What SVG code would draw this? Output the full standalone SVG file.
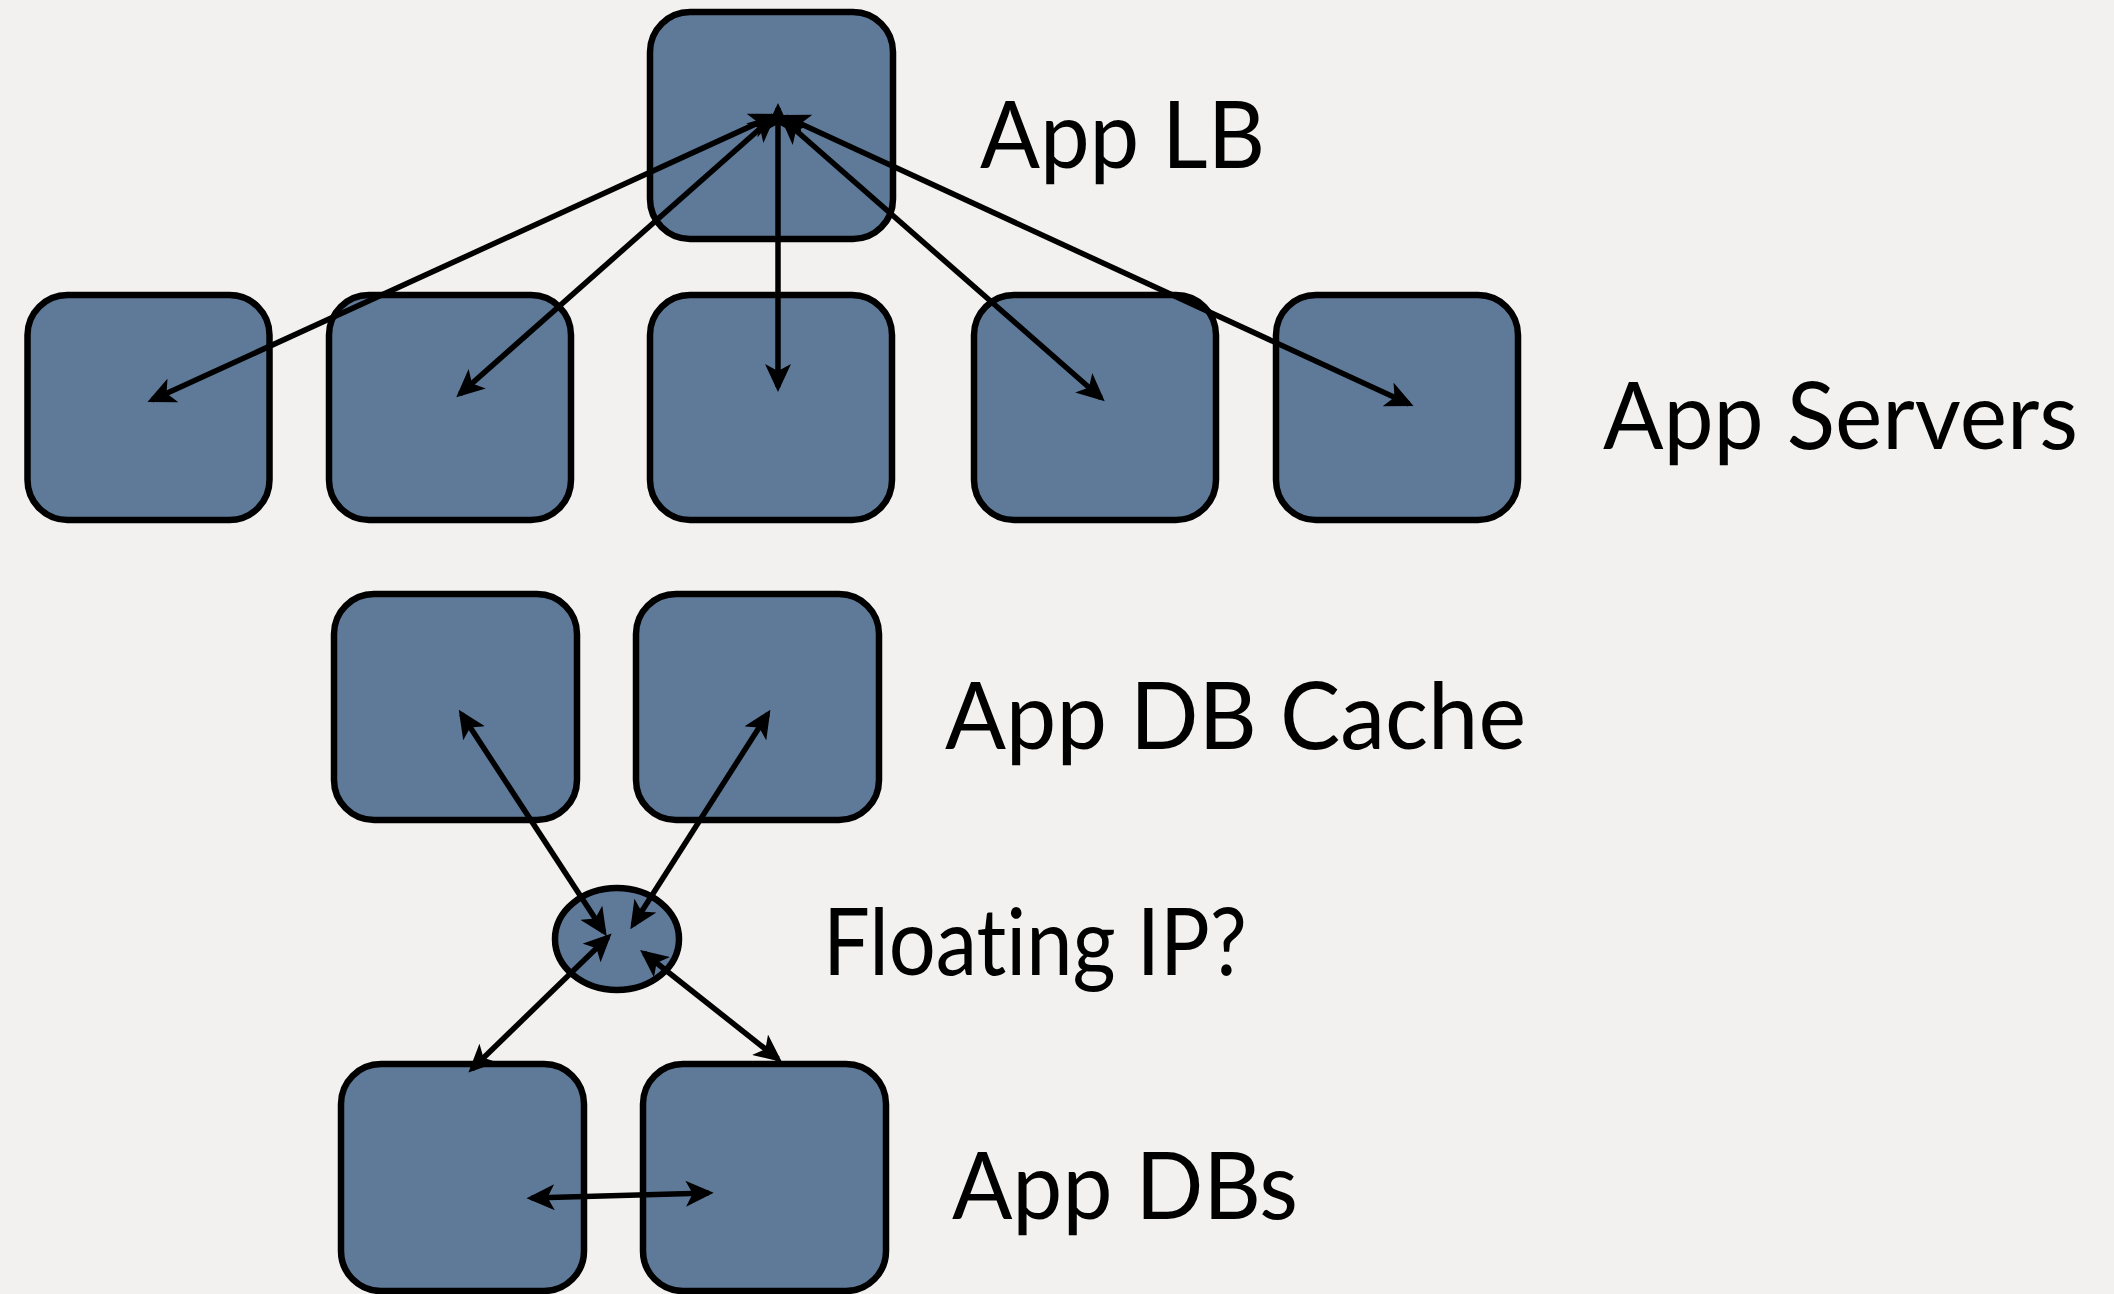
<svg xmlns="http://www.w3.org/2000/svg" width="2114" height="1294" viewBox="0 0 2114 1294">
<style>
.box{fill:#5f7a99;stroke:#000;stroke-width:6.5}
.con{stroke:#000;stroke-width:5.5;fill:none;marker-start:url(#ah);marker-end:url(#ah)}
.lbl{font-family:Lato,"Open Sans","Liberation Sans",sans-serif;font-size:93px;fill:#000;font-variant-ligatures:none;font-feature-settings:"liga" 0}
</style>
<defs>
<marker id="ah" viewBox="0 0 28 26" refX="23" refY="13" markerWidth="28" markerHeight="26" markerUnits="userSpaceOnUse" orient="auto-start-reverse">
<path d="M0,0 L28,13 L0,26 L7,13 Z" fill="#000"/>
</marker>
</defs>
<rect width="2114" height="1294" fill="#f2f1ef"/>
<g id="app-lb"><rect class="box" x="650" y="12" width="243" height="227" rx="40"/></g>
<g id="server-1"><rect class="box" x="27.5" y="295" width="242" height="225" rx="40"/></g>
<g id="server-2"><rect class="box" x="329" y="295" width="242" height="225" rx="40"/></g>
<g id="server-3"><rect class="box" x="650" y="295" width="242" height="225" rx="40"/></g>
<g id="server-4"><rect class="box" x="974" y="295" width="242" height="225" rx="40"/></g>
<g id="server-5"><rect class="box" x="1276" y="295" width="242" height="225" rx="40"/></g>
<g id="cache-1"><rect class="box" x="334" y="594" width="243" height="226" rx="40"/></g>
<g id="cache-2"><rect class="box" x="636" y="594" width="243" height="226" rx="40"/></g>
<g id="floating-ip"><ellipse class="box" cx="617" cy="939" rx="62" ry="51"/></g>
<g id="db-1"><rect class="box" x="341" y="1064" width="243" height="227" rx="40"/></g>
<g id="db-2"><rect class="box" x="643" y="1064" width="243" height="227" rx="40"/></g>
<g id="connectors">
<line class="con" x1="773" y1="116" x2="152" y2="400"/>
<line class="con" x1="772" y1="118" x2="460" y2="394"/>
<line class="con" x1="778" y1="108" x2="778" y2="387"/>
<line class="con" x1="784" y1="120" x2="1101" y2="398"/>
<line class="con" x1="786" y1="117" x2="1409" y2="404"/>
<line class="con" x1="604" y1="932" x2="461.5" y2="714"/>
<line class="con" x1="633" y1="925" x2="767.7" y2="714"/>
<line class="con" x1="608" y1="937" x2="472" y2="1069"/>
<line class="con" x1="644" y1="953" x2="778" y2="1059"/>
<line class="con" x1="531.5" y1="1198" x2="708.7" y2="1193"/>
</g>
<g id="labels">
<text class="lbl" x="980" y="168" textLength="285" lengthAdjust="spacingAndGlyphs">App LB</text>
<text class="lbl" x="1603" y="449" textLength="475" lengthAdjust="spacingAndGlyphs">App Servers</text>
<text class="lbl" x="945" y="749" textLength="581" lengthAdjust="spacingAndGlyphs">App DB Cache</text>
<text class="lbl" x="823" y="975" textLength="424" lengthAdjust="spacingAndGlyphs">Floating IP?</text>
<text class="lbl" x="952" y="1219" textLength="346" lengthAdjust="spacingAndGlyphs">App DBs</text>
</g>
</svg>
